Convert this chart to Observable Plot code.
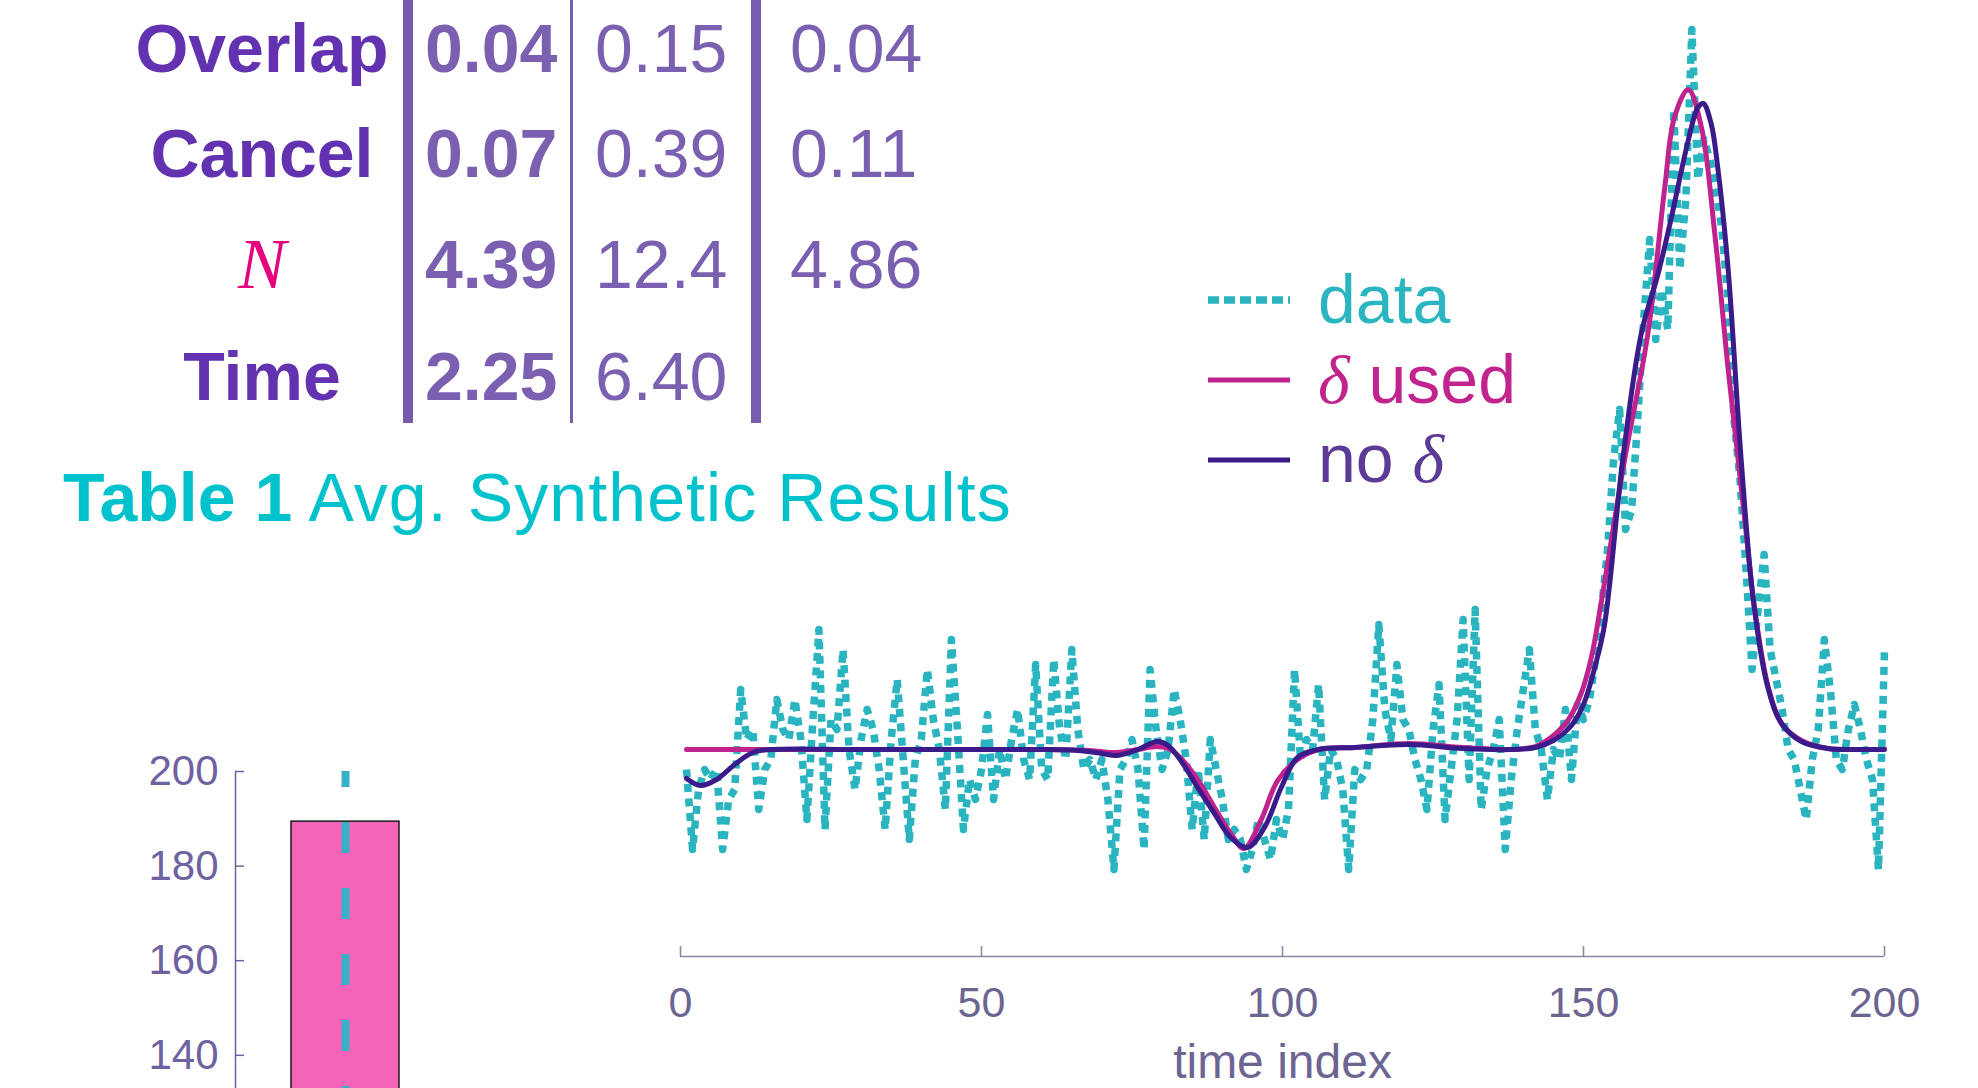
<!DOCTYPE html>
<html><head><meta charset="utf-8">
<script src="https://cdn.jsdelivr.net/npm/d3@7"></script>
<script src="https://cdn.jsdelivr.net/npm/@observablehq/plot@0.6"></script>
<style>
html,body{margin:0;padding:0;background:#fff;}
body{width:1978px;height:1088px;overflow:hidden;position:relative;font-family:"Liberation Sans",Arial,sans-serif;}
#bar{position:absolute;left:0;top:700px;}
#main{position:absolute;left:600px;top:0;}
#overlay{position:absolute;left:0;top:0;pointer-events:none;}
</style></head><body>
<div id="bar"></div>
<div id="main"></div>
<svg id="overlay" width="1978" height="1088"></svg>
<script>
// ---------- table data ----------
const rowLabels = ["Overlap", "Cancel", "N", "Time"];
const col1 = ["0.04", "0.07", "4.39", "2.25"];   // bold column
const col2 = ["0.15", "0.39", "12.4", "6.40"];
const col3 = ["0.04", "0.11", "4.86", ""];
const captionBold = "Table 1";
const captionText = " Avg. Synthetic Results";

// ---------- bar chart data ----------
const barCategories = ["result"];
const barValues = [189.4];
const barTicks = [140, 160, 180, 200];
const barRefLevel = 200;

// ---------- main chart data ----------
const xTicks = [0, 50, 100, 150, 200];
const xLabel = "time index";
const legendLabels = ["data", "δ used", "no δ"];
// noisy observations, time index 1..200
const dataValues = [
  -2, -10, -4, -2, -3, -2, -10, -5, -4, 6,
  1, 2, -6, -2, -1, 5, 2, 1, 5, 1,
  -7, 3, 12, -8, 3, 2, 10, 0, -4, 1,
  4, 2, -2, -8, 1, 7, -1, -9, -1, 1,
  8, 3, 0, -6, 11, 2, -8, -3, -5, -2,
  3.5, -5, 0, -3, 1, 4, -1, -3, 8.5, -2,
  -3, 9, 2, -1, 10, 2, -2, -1, -3, -1,
  -5, -12, -2, -1, 1, -2, -10, 8, 2, -2,
  0, 6, 3, -1, -8, -2, -9, 1, -2, -5,
  -9, -8, -9, -12, -10, -7, -9, -11, -7, -9,
  -6, 8, -1, 1, 0, 6.5, -5, 0, -1, -4,
  -12, -2, -3, -2, 3, 12.5, 4, 1, 8.5, 3,
  2, -1, -3, -6, 2, 6.5, -7, -2, 3, 13,
  -3, 14, -6, -2, 0, 3, -10, -3, 2, 6,
  10, 2, 0, -5, 0, -1, 4, -3, 4.5, 3,
  5, 9, 14, 20, 29, 34, 22, 24, 33, 43,
  51, 41, 46, 42, 64, 48, 55, 72, 57, 61,
  59, 56, 52, 45, 33, 27, 18, 8, 14, 19.5,
  10, 7, 4, 0, -1, -4, -7, -1, 2, 11,
  6, -1, -2, 2, 4.5, 2, -1, -3, -12, 10
];
// fitted curve with delta (read at selected time indices)
const deltaT = [1, 20, 40, 60, 68, 72, 76, 79, 81, 83, 86, 88.7, 91.4, 93.6, 96.4, 99.2, 102.5, 106, 112, 121, 130, 138, 142, 144.6, 147.4, 149.6, 151.3, 153, 156.8, 160.7, 163.5, 165.1, 167.4, 169.6, 171.8, 174, 175.7, 176.8, 178.4, 180.7, 182.9, 186.2, 190.6, 195, 200];
const deltaV = [0, 0, 0, 0, -0.1, -0.3, 0, 0.3, 0.1, -0.8, -3.1, -5.8, -8.4, -9.9, -7.1, -3.1, -1.0, 0, 0.2, 0.6, 0.2, 0, 0.3, 1.2, 2.9, 5.6, 9.2, 14.9, 28.9, 41.6, 56.2, 63.2, 66, 62.2, 51.6, 38.2, 28.9, 22.9, 14.2, 6.2, 2.6, 0.9, 0.1, 0, 0];
// fitted curve without delta
const noDeltaT = [1, 3.3, 6, 9, 12, 15, 30, 50, 60, 66, 70, 72.5, 76, 79.2, 81, 83.1, 85.9, 88.7, 91.4, 94.2, 97, 99.8, 102.5, 106, 112, 121, 130, 138, 142, 145, 148, 150, 152, 153.5, 156.5, 159.6, 162.4, 164.6, 167.4, 169, 169.9, 171.2, 172.3, 174, 176.2, 178.2, 180.5, 182.9, 186.2, 190.6, 195, 200];
const noDeltaV = [-2.9, -3.6, -3.0, -1.5, -0.3, 0, 0, 0, 0, -0.1, -0.4, -0.6, 0, 0.8, 0.4, -1.1, -3.8, -6.4, -8.8, -9.8, -7.8, -3.8, -0.8, 0, 0.2, 0.5, 0.1, 0, 0.2, 0.9, 2.4, 4.5, 8.5, 12.5, 28.9, 41.6, 47.6, 53.2, 60.9, 64.2, 64.6, 62.6, 58.2, 48.2, 28.9, 15, 6.5, 2.6, 0.8, 0.1, 0, 0];

// ---------- styles ----------
const CYAN = "#29b4bf", MAGENTA = "#c0238e", INDIGO = "#3b1a8a";
const AXIS = "#8c86a6", LABEL = "#6c6592", BARLABEL = "#6e62a0";
const font = "Liberation Sans, Arial, sans-serif";

const dataSeries = dataValues.map((v, i) => ({t: i + 1, v}));
const deltaUsed = deltaT.map((t, i) => ({t, v: deltaV[i]}));
const noDelta = noDeltaT.map((t, i) => ({t, v: noDeltaV[i]}));

const yMin = -20.7, yMax = 72.9;
const main = Plot.plot({
  width: 1378, height: 1088,
  marginLeft: 80, marginRight: 94, marginTop: 20, marginBottom: 132,
  style: {background: "transparent", fontFamily: font, overflow: "visible"},
  x: {domain: [0, 200], label: null},
  y: {domain: [yMin, yMax], axis: null, label: null},
  marks: [
    Plot.ruleY([yMin], {stroke: AXIS, strokeWidth: 1.6}),
    Plot.ruleX(xTicks, {y1: yMin, y2: yMin + 1, stroke: AXIS, strokeWidth: 1.6}),
    Plot.axisX(xTicks, {tickSize: 0, tickPadding: 30, fontSize: 43, fill: LABEL, label: null}),
    Plot.text([xLabel], {frameAnchor: "bottom", dy: 121, fontSize: 48, fill: LABEL}),
    Plot.line(dataSeries, {x: "t", y: "v", stroke: CYAN, strokeWidth: 7.5, strokeDasharray: "8 6.5", strokeLinecap: "butt", strokeLinejoin: "round"}),
    Plot.line(deltaUsed, {x: "t", y: "v", curve: "catmull-rom", stroke: MAGENTA, strokeWidth: 5}),
    Plot.line(noDelta, {x: "t", y: "v", curve: "catmull-rom", stroke: INDIGO, strokeWidth: 5})
  ]
});
document.getElementById("main").appendChild(main);

// ---------- bar chart ----------
const barData = barCategories.map((c, i) => ({cat: c, v: barValues[i]}));
const barFrameW = 500 - 235 - 46;
const bar = Plot.plot({
  width: 500, height: 450,
  marginLeft: 235, marginRight: 46, marginTop: 71, marginBottom: 0.6,
  style: {background: "transparent", fontFamily: font, overflow: "visible"},
  x: {domain: barCategories, paddingInner: 0, paddingOuter: 0.5046, axis: null, label: null},
  y: {domain: [120, 200], axis: null, label: null},
  marks: [
    Plot.barY(barData, {x: "cat", y: "v", fill: "#f564b9", stroke: "#1a1a1a", strokeWidth: 1.5}),
    Plot.ruleX(barData, {x: "cat", y1: barRefLevel, y2: 120, stroke: "#3ab0c8", strokeWidth: 8, strokeDasharray: "31 35", strokeDashoffset: 15}),
    Plot.frame({anchor: "left", stroke: BARLABEL, strokeWidth: 1.5}),
    Plot.ruleY(barTicks, {stroke: BARLABEL, strokeWidth: 1.5, insetRight: barFrameW - 9}),
    Plot.axisY(barTicks, {tickSize: 0, tickPadding: 17, fontSize: 42, fill: BARLABEL, label: null})
  ]
});
document.getElementById("bar").appendChild(bar);

// ---------- table, caption, legend (text) ----------
const ov = d3.select("#overlay");
const F = 68;
const rowY = [72, 177, 288, 400];
const LBL = "#6232b0", NUM = "#7b5fb0", LINE = "#7a5cad";
rowLabels.forEach((lab, i) => {
  const t = ov.append("text").attr("x", 262).attr("y", rowY[i]).attr("text-anchor", "middle").text(lab);
  if (lab === "N") {
    t.attr("font-family", "Liberation Serif, DejaVu Serif, serif").attr("font-style", "italic")
     .attr("font-size", 72).attr("fill", "#e5007e");
  } else {
    t.attr("font-family", font).attr("font-weight", "bold").attr("font-size", F).attr("fill", LBL);
  }
});
[[col1, 425, "bold"], [col2, 595, "normal"], [col3, 790, "normal"]].forEach(([col, x, w]) => {
  col.forEach((s, i) => {
    ov.append("text").attr("x", x).attr("y", rowY[i]).attr("font-family", font)
      .attr("font-size", F).attr("font-weight", w).attr("fill", NUM).text(s);
  });
});
[[408, 10], [571.5, 3], [756, 10]].forEach(([x, w]) => {
  ov.append("line").attr("x1", x).attr("x2", x).attr("y1", 0).attr("y2", 423)
    .attr("stroke", LINE).attr("stroke-width", w);
});
const cap = ov.append("text").attr("x", 63).attr("y", 521).attr("font-family", font)
  .attr("font-size", F).attr("fill", "#00c2cc");
cap.append("tspan").attr("font-weight", "bold").text(captionBold);
cap.append("tspan").attr("letter-spacing", 1.1).text(captionText);

// legend
const legY = [300, 380, 460];
const legBase = [323, 403, 482];
ov.append("line").attr("x1", 1208).attr("x2", 1290).attr("y1", legY[0]).attr("y2", legY[0])
  .attr("stroke", CYAN).attr("stroke-width", 7.5).attr("stroke-dasharray", "11 5");
ov.append("line").attr("x1", 1208).attr("x2", 1290).attr("y1", legY[1]).attr("y2", legY[1])
  .attr("stroke", MAGENTA).attr("stroke-width", 5);
ov.append("line").attr("x1", 1208).attr("x2", 1290).attr("y1", legY[2]).attr("y2", legY[2])
  .attr("stroke", INDIGO).attr("stroke-width", 5);
const serif = "Liberation Serif, DejaVu Serif, serif";
function legendText(label, i, color) {
  const t = ov.append("text").attr("x", 1318).attr("y", legBase[i]).attr("font-family", font)
    .attr("font-size", F).attr("fill", color);
  label.split(/(δ)/).filter(s => s.length).forEach(part => {
    const ts = t.append("tspan").text(part);
    if (part === "δ") ts.attr("font-family", serif).attr("font-style", "italic");
  });
}
legendText(legendLabels[0], 0, "#2ab5c1");
legendText(legendLabels[1], 1, "#c2248d");
legendText(legendLabels[2], 2, "#5c3b96");
</script>
</body></html>
